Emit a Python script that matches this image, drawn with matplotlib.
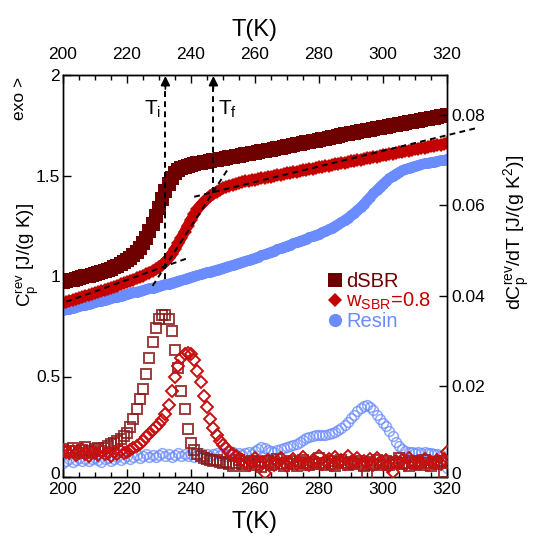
import numpy as np
import matplotlib
matplotlib.use("Agg")
import matplotlib.pyplot as plt
from matplotlib.lines import Line2D

plt.rcParams['font.family'] = ['Liberation Sans', 'DejaVu Sans']
plt.rcParams['mathtext.fontset'] = 'custom'
plt.rcParams['mathtext.rm'] = 'Liberation Sans'
plt.rcParams['mathtext.it'] = 'Liberation Sans'
plt.rcParams['mathtext.default'] = 'regular'

# ---------------- data ----------------
T = list(range(200, 321))

cp_dsbr = [0.970, 0.974, 0.978, 0.982, 0.986, 0.990, 0.994, 0.998, 1.002, 1.006,
           1.010, 1.015, 1.020, 1.025, 1.031, 1.037, 1.044, 1.051, 1.059, 1.068,
           1.078, 1.090, 1.104, 1.120, 1.140, 1.163, 1.190, 1.222, 1.258, 1.298,
           1.340, 1.383, 1.424, 1.460, 1.490, 1.511, 1.525, 1.535, 1.542, 1.548,
           1.553, 1.557, 1.560, 1.563, 1.566, 1.569, 1.572, 1.575, 1.578, 1.581,
           1.584, 1.587, 1.590, 1.593, 1.596, 1.599, 1.602, 1.605, 1.608, 1.611,
           1.614, 1.617, 1.620, 1.623, 1.626, 1.629, 1.632, 1.635, 1.638, 1.641,
           1.645, 1.648, 1.651, 1.655, 1.658, 1.661, 1.665, 1.668, 1.671, 1.674,
           1.678, 1.681, 1.684, 1.688, 1.691, 1.694, 1.697, 1.701, 1.704, 1.707,
           1.710, 1.713, 1.716, 1.719, 1.722, 1.725, 1.728, 1.731, 1.734, 1.737,
           1.740, 1.743, 1.746, 1.749, 1.752, 1.755, 1.758, 1.761, 1.764, 1.767,
           1.770, 1.773, 1.776, 1.779, 1.782, 1.785, 1.788, 1.791, 1.794, 1.797,
           1.800]

cp_w08 = [0.865, 0.870, 0.875, 0.880, 0.885, 0.890, 0.895, 0.900, 0.905, 0.910,
          0.915, 0.920, 0.925, 0.930, 0.935, 0.940, 0.946, 0.952, 0.958, 0.964,
          0.970, 0.976, 0.982, 0.988, 0.995, 1.002, 1.009, 1.017, 1.025, 1.034,
          1.044, 1.056, 1.071, 1.089, 1.110, 1.135, 1.162, 1.191, 1.221, 1.251,
          1.280, 1.307, 1.331, 1.352, 1.370, 1.385, 1.398, 1.410, 1.420, 1.429,
          1.437, 1.444, 1.450, 1.455, 1.460, 1.464, 1.468, 1.471, 1.474, 1.477,
          1.480, 1.483, 1.486, 1.489, 1.492, 1.495, 1.498, 1.501, 1.504, 1.507,
          1.510, 1.513, 1.516, 1.519, 1.522, 1.525, 1.528, 1.531, 1.534, 1.537,
          1.540, 1.543, 1.546, 1.549, 1.552, 1.555, 1.558, 1.561, 1.564, 1.567,
          1.570, 1.573, 1.576, 1.579, 1.582, 1.585, 1.588, 1.591, 1.594, 1.597,
          1.600, 1.603, 1.606, 1.609, 1.612, 1.615, 1.618, 1.621, 1.624, 1.627,
          1.630, 1.633, 1.636, 1.639, 1.642, 1.645, 1.648, 1.651, 1.654, 1.657,
          1.660]

cp_resin = [0.830, 0.834, 0.838, 0.842, 0.846, 0.850, 0.854, 0.858, 0.862, 0.866,
            0.870, 0.874, 0.878, 0.882, 0.886, 0.890, 0.894, 0.898, 0.902, 0.906,
            0.910, 0.914, 0.918, 0.922, 0.926, 0.930, 0.934, 0.938, 0.942, 0.946,
            0.950, 0.954, 0.958, 0.962, 0.967, 0.971, 0.976, 0.980, 0.985, 0.990,
            0.995, 1.000, 1.004, 1.009, 1.013, 1.018, 1.022, 1.027, 1.031, 1.036,
            1.040, 1.045, 1.050, 1.055, 1.060, 1.065, 1.070, 1.075, 1.080, 1.085,
            1.090, 1.096, 1.102, 1.108, 1.114, 1.120, 1.126, 1.132, 1.138, 1.144,
            1.150, 1.156, 1.162, 1.168, 1.174, 1.180, 1.186, 1.192, 1.198, 1.204,
            1.210, 1.217, 1.224, 1.232, 1.240, 1.249, 1.258, 1.268, 1.279, 1.290,
            1.302, 1.315, 1.329, 1.344, 1.360, 1.377, 1.394, 1.411, 1.428, 1.444,
            1.459, 1.473, 1.486, 1.498, 1.508, 1.517, 1.525, 1.532, 1.538, 1.543,
            1.548, 1.552, 1.556, 1.560, 1.563, 1.566, 1.569, 1.572, 1.575, 1.578,
            1.581]

d_dsbr = [0.0062, 0.0055, 0.0058, 0.0064, 0.0057, 0.0052, 0.0060, 0.0066, 0.0058, 0.0054,
          0.0061, 0.0063, 0.0057, 0.0065, 0.0068, 0.0072, 0.0075, 0.0079, 0.0083, 0.0090,
          0.0098, 0.0110, 0.0128, 0.0150, 0.0172, 0.0195, 0.0228, 0.0262, 0.0298, 0.0330,
          0.0350, 0.0358, 0.0357, 0.0348, 0.0322, 0.0280, 0.0240, 0.0190, 0.0150, 0.0105,
          0.0075, 0.0060, 0.0050, 0.0046, 0.0042, 0.0040, 0.0038, 0.0035, 0.0037, 0.0033,
          0.0031, 0.0034, 0.0028, 0.0025, 0.0032, 0.0038, 0.0029, 0.0024, 0.0031, 0.0036,
          0.0027, 0.0033, 0.0022, 0.0030, 0.0035, 0.0026, 0.0031, 0.0039, 0.0028, 0.0024,
          0.0032, 0.0036, 0.0029, 0.0025, 0.0033, 0.0037, 0.0030, 0.0026, 0.0034, 0.0028,
          0.0041, 0.0031, 0.0027, 0.0035, 0.0029, 0.0024, 0.0033, 0.0038, 0.0030, 0.0026,
          0.0034, 0.0028, 0.0036, 0.0031, 0.0025, 0.0004, 0.0033, 0.0029, 0.0037, 0.0027,
          0.0032, 0.0035, 0.0026, 0.0030, 0.0034, 0.0043, 0.0028, 0.0031, 0.0025, 0.0036,
          0.0029, 0.0033, 0.0027, 0.0038, 0.0030, 0.0024, 0.0034, 0.0029, 0.0036, 0.0012,
          0.0031]

d_w08 = [0.0060, 0.0055, 0.0052, 0.0058, 0.0049, 0.0054, 0.0061, 0.0050, 0.0046, 0.0056,
         0.0052, 0.0048, 0.0057, 0.0050, 0.0054, 0.0047, 0.0055, 0.0051, 0.0058, 0.0053,
         0.0056, 0.0060, 0.0064, 0.0068, 0.0074, 0.0080, 0.0088, 0.0096, 0.0103, 0.0110,
         0.0117, 0.0126, 0.0140, 0.0160, 0.0190, 0.0222, 0.0245, 0.0262, 0.0272, 0.0275,
         0.0271, 0.0258, 0.0235, 0.0210, 0.0180, 0.0155, 0.0128, 0.0108, 0.0092, 0.0080,
         0.0070, 0.0063, 0.0056, 0.0050, 0.0046, 0.0042, 0.0038, 0.0030, 0.0026, 0.0035,
         0.0041, 0.0029, 0.0033, 0.0008, 0.0037, 0.0031, 0.0027, 0.0036, 0.0042, 0.0030,
         0.0025, 0.0034, 0.0040, 0.0028, 0.0032, 0.0045, 0.0031, 0.0026, 0.0037, 0.0033,
         0.0047, 0.0029, 0.0035, 0.0040, 0.0027, 0.0044, 0.0032, 0.0038, 0.0028, 0.0046,
         0.0034, 0.0030, 0.0041, 0.0026, 0.0036, 0.0031, 0.0039, 0.0027, 0.0043, 0.0033,
         0.0029, 0.0037, 0.0024, 0.0012, 0.0035, 0.0030, 0.0038, 0.0026, 0.0041, 0.0032,
         0.0028, 0.0036, 0.0030, 0.0039, 0.0027, 0.0034, 0.0031, 0.0037, 0.0029, 0.0040,
         0.0055]

d_resin = [0.0030, 0.0036, 0.0040, 0.0034, 0.0038, 0.0042, 0.0036, 0.0040, 0.0035, 0.0039,
           0.0043, 0.0037, 0.0033, 0.0039, 0.0041, 0.0036, 0.0040, 0.0044, 0.0038, 0.0042,
           0.0046, 0.0040, 0.0044, 0.0048, 0.0043, 0.0047, 0.0050, 0.0045, 0.0049, 0.0044,
           0.0048, 0.0052, 0.0046, 0.0050, 0.0045, 0.0049, 0.0053, 0.0047, 0.0051, 0.0046,
           0.0050, 0.0045, 0.0049, 0.0053, 0.0047, 0.0051, 0.0046, 0.0050, 0.0054, 0.0048,
           0.0052, 0.0047, 0.0051, 0.0055, 0.0049, 0.0053, 0.0048, 0.0052, 0.0056, 0.0050,
           0.0058, 0.0062, 0.0066, 0.0064, 0.0060, 0.0058, 0.0056, 0.0059, 0.0061, 0.0063,
           0.0066, 0.0068, 0.0071, 0.0074, 0.0078, 0.0082, 0.0086, 0.0089, 0.0091, 0.0092,
           0.0093, 0.0092, 0.0093, 0.0095, 0.0097, 0.0100, 0.0104, 0.0109, 0.0115, 0.0122,
           0.0130, 0.0138, 0.0146, 0.0153, 0.0157, 0.0158, 0.0155, 0.0148, 0.0138, 0.0128,
           0.0120, 0.0112, 0.0102, 0.0090, 0.0078, 0.0068, 0.0062, 0.0058, 0.0056, 0.0055,
           0.0054, 0.0056, 0.0053, 0.0055, 0.0052, 0.0054, 0.0051, 0.0050, 0.0048, 0.0035,
           0.0020]

labels = ['dSBR', r'w$_{SBR}$=0.8', 'Resin']
colors = ['#6E0000', '#C40000', '#6A8CFF']
open_colors = ['#8A1C1C', '#C81010', '#6A8CFF']

# tangent construction (T, Cp) endpoints
tan_low = ([201, 239], [0.872, 1.089])
tan_mid = ([228, 251.5], [0.951, 1.531])
tan_up = ([241, 330], [1.394, 1.739])
T_i, T_f = 232, 247
Ti_base, Tf_base = 0.985, 1.415

# ---------------- figure ----------------
W, H = 535, 536
fig = plt.figure(figsize=(W / 100, H / 100), dpi=100)
ax = fig.add_axes([63 / W, 1 - 477 / H, 384 / W, 402 / H])
ax2 = ax.twinx()

ax.set_xlim(200, 320)
ax.set_ylim(0, 2)
ax2.set_ylim(0, 0.0888)

# derivative (open markers) on right axis
ax2.plot(T, d_resin, ls='none', marker='o', ms=7, mfc='none', mec=open_colors[2], mew=1.1, alpha=0.75, zorder=2)
ax2.plot(T, d_dsbr, ls='none', marker='s', ms=7.8, mfc='none', mec=open_colors[0], mew=1.4, alpha=0.85, zorder=3)
ax2.plot(T, d_w08, ls='none', marker='D', ms=5.8, mfc='none', mec=open_colors[1], mew=1.4, zorder=4)

# Cp (filled markers) on left axis
ax.plot(T, cp_resin, ls='-', lw=7.0, marker='o', ms=8, color=colors[2], mew=0, zorder=3,
        solid_capstyle='round')
ax.plot(T, cp_w08, ls='-', lw=7.5, marker='D', ms=7, color=colors[1], mew=0, zorder=3,
        solid_capstyle='butt')
ax.plot(T, cp_dsbr, ls='none', marker='s', ms=9.5, color=colors[0], mew=0, zorder=3)

# tangents
dash = (0, (3, 2.2))
for xs, ys in (tan_low, tan_mid, tan_up):
    ax.plot(xs, ys, color='k', lw=1.4, ls=dash, zorder=5, clip_on=False)

# T_i / T_f arrows
for tx, base in ((T_i, Ti_base), (T_f, Tf_base)):
    ax.plot([tx, tx], [base, 1.95], color='k', lw=1.4, ls=dash, zorder=5)
    ax.annotate('', xy=(tx, 1.995), xytext=(tx, 1.93),
                arrowprops=dict(arrowstyle='-|>', color='k', lw=1.2, mutation_scale=14,
                                shrinkA=0, shrinkB=0), zorder=6)
ax.text(230.6, 1.83, r'T$_i$', fontsize=15, ha='right', va='center')
ax.text(248.5, 1.83, r'T$_f$', fontsize=15, ha='left', va='center')

# axes styling
ax.set_xticks([200, 220, 240, 260, 280, 300, 320])
ax.set_xticks(np.arange(200, 321, 5), minor=True)
ax.set_yticks([0, 0.5, 1, 1.5, 2])
ax.set_yticklabels(['0', '0.5', '1', '1.5', '2'])
ax2.set_yticks([0, 0.02, 0.04, 0.06, 0.08])
ax2.set_yticklabels(['0', '0.02', '0.04', '0.06', '0.08'])
ax.tick_params(axis='x', which='both', direction='in', top=False, labelsize=12.5, pad=3.5)
ax.tick_params(axis='x', which='major', length=6, width=1)
ax.tick_params(axis='x', which='minor', length=3.5, width=1)
ax.tick_params(axis='y', which='major', direction='in', length=6, width=1, labelsize=12.5, pad=2, right=False)
ax2.tick_params(axis='y', which='major', direction='in', length=6, width=1, labelsize=12.5, pad=3)

# nudge the corner "0" labels slightly up so they do not touch the x labels
import matplotlib.transforms as mtransforms
for a in (ax, ax2):
    lbl = a.get_yticklabels()[0]
    lbl.set_transform(lbl.get_transform() + mtransforms.ScaledTranslation(0, 3 / 72, fig.dpi_scale_trans))

sec = ax.secondary_xaxis('top')
sec.set_xticks([200, 220, 240, 260, 280, 300, 320])
sec.set_xticks(np.arange(200, 321, 5), minor=True)
sec.tick_params(axis='x', which='both', direction='in', labelsize=12.5, pad=9)
sec.tick_params(axis='x', which='major', length=6, width=1)
sec.tick_params(axis='x', which='minor', length=3.5, width=1)
sec.set_xlabel('T(K)', fontsize=17, labelpad=8)

for a in (ax, ax2):
    for s in a.spines.values():
        s.set_linewidth(1.0)

ax.set_xlabel('T(K)', fontsize=17, labelpad=10)

fig.text(28 / W, 1 - 255 / H, r'$C_p^{rev}$ [J/(g K)]', fontsize=13.5, rotation=90,
         ha='center', va='center')
fig.text(517 / W, 1 - 232 / H, r'$dC_p^{rev}/dT$ [J/(g K$^2$)]', fontsize=14, rotation=90,
         ha='center', va='center')
fig.text(20 / W, 1 - 98 / H, 'exo >', fontsize=12.5, rotation=90, ha='center', va='center')

# legend
handles = [Line2D([], [], ls='none', marker='s', ms=9.5, color=colors[0], mew=0),
           Line2D([], [], ls='none', marker='D', ms=7.5, color=colors[1], mew=0),
           Line2D([], [], ls='none', marker='o', ms=9.5, color=colors[2], mew=0)]
leg = ax2.legend(handles, labels, loc='upper left', bbox_to_anchor=(0.69, 0.51),
                 frameon=False, fontsize=14.5, handlelength=0.7, handletextpad=0.2,
                 labelspacing=0.0, borderpad=0, borderaxespad=0)
for txt, c in zip(leg.get_texts(), colors):
    txt.set_color(c)

fig.savefig('out.png', dpi=100)
